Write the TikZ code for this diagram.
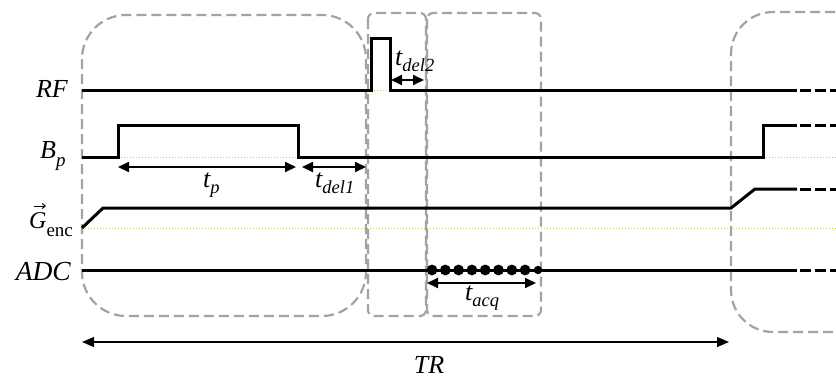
\documentclass[tikz,border=0pt]{standalone}
\usepackage{fontspec}
\setmainfont{Liberation Serif}
\usetikzlibrary{arrows.meta}
\definecolor{boxgray}{HTML}{A3A3A3}
\definecolor{guidegreen}{HTML}{B3D45F}
\newcommand{\subx}[1]{\raisebox{-6pt}{\fontsize{18.5}{20}\selectfont\itshape #1}}
\begin{document}
\begin{tikzpicture}[x=1pt,y=-1pt,
  sig/.style={line width=3pt, line join=miter},
  ext/.style={line width=3pt, dash pattern=on 11pt off 4pt},
  frame/.style={draw=boxgray, line width=2.2pt, dash pattern=on 10pt off 5pt},
  guide/.style={draw=guidegreen, line width=1pt, dotted},
  dimarrow/.style={line width=2pt, {Triangle[length=11pt,width=10pt]}-{Triangle[length=11pt,width=10pt]}},
  trarrow/.style={line width=1.3pt, {Triangle[length=12pt,width=10pt]}-{Triangle[length=12pt,width=10pt]}},
  lbl/.style={inner sep=0pt, font=\fontsize{26}{30}\selectfont\itshape},
]
\useasboundingbox (0,0) rectangle (836,380);
\fill[white] (0,0) rectangle (836,380);

% frames
\draw[frame, rounded corners=44pt] (82,15) rectangle (366,316);
\draw[frame, rounded corners=6pt] (368,13) rectangle (426,316);
\draw[frame, rounded corners=6pt] (427,13) rectangle (541,316);
\draw[frame, rounded corners=42pt] (880,12) -- (731,12) -- (731,332) -- (880,332);

% guides
\draw[guide] (371,90) -- (390,90);
\draw[guide] (118,157) -- (298,157);
\draw[guide] (763,157) -- (836,157);
\draw[guide] (82,228) -- (836,228);

% signals
\draw[sig] (82,90) -- (371,90) -- (371,38) -- (390,38) -- (390,90) -- (797,90);
\draw[ext] (800,90) -- (840,90);
\draw[sig] (82,157) -- (118,157) -- (118,125) -- (298,125) -- (298,157) -- (763,157) -- (763,125) -- (797,125);
\draw[ext] (800,125) -- (840,125);
\draw[sig] (82,228) -- (103,208) -- (731,208) -- (755,189) -- (797,189);
\draw[ext] (800,189) -- (840,189);
\draw[sig] (82,270) -- (797,270);
\draw[ext] (800,270) -- (840,270);

% ADC samples
\foreach \k in {0,...,7} \fill (432+13.3*\k,270) circle (5.4pt);
\fill (538,270) circle (4.2pt);

% dimension arrows
\coordinate (tpL) at (118,167); \coordinate (tpR) at (296,167);
\coordinate (d1L) at (302,167); \coordinate (d1R) at (366,167);
\coordinate (d2L) at (391,80);  \coordinate (d2R) at (424,80);
\coordinate (aqL) at (427,283); \coordinate (aqR) at (536,283);
\coordinate (trL) at (82,342);  \coordinate (trR) at (729,342);
\draw[dimarrow] (tpL) -- (tpR);
\draw[dimarrow] (d1L) -- (d1R);
\draw[dimarrow] (d2L) -- (d2R);
\draw[dimarrow] (aqL) -- (aqR);
\draw[trarrow] (trL) -- (trR);

% labels
\node[lbl, anchor=base east] (rf) at (68,97) {RF};
\node[lbl, anchor=base west] (bp) at (40,158) {B\raisebox{-8pt}{\fontsize{19}{20}\selectfont\itshape p}};
\node[lbl, anchor=base west] (genc) at (29,228) {\fontsize{24}{28}\selectfont G\raisebox{-8pt}{\fontsize{19}{20}\selectfont\upshape enc}};
\coordinate (vecL) at (34,206); \coordinate (vecR) at (46,206);
\draw[line width=1pt, -{Straight Barb[length=3pt,width=5pt]}] (vecL) -- (vecR);
\node[lbl, anchor=base east, font=\fontsize{27.5}{30}\selectfont\itshape] (adc) at (71,280) {ADC};
\node[lbl, anchor=base west] (tp) at (203,187) {t\subx{p}};
\node[lbl, anchor=base west] (td1) at (315,187) {t\subx{del1}};
\node[lbl, anchor=base west] (td2) at (395,65) {t\subx{del2}};
\node[lbl, anchor=base west] (tacq) at (465,300) {t\subx{acq}};
\node[lbl, anchor=base] (tr) at (429,373) {TR};
\end{tikzpicture}
\end{document}
